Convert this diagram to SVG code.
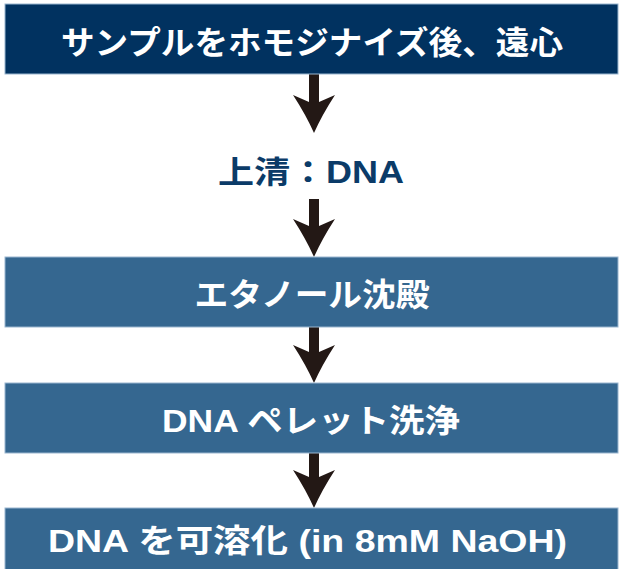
<svg xmlns="http://www.w3.org/2000/svg" width="625" height="569" viewBox="0 0 625 569">
<style>
.box{fill:#356790;stroke:#9ab6cf;stroke-width:1}
.dark{fill:#013260;stroke:#9ab6cf;stroke-width:1}
.t{font-family:"Liberation Sans","Noto Sans CJK JP",sans-serif;font-weight:bold;font-size:31px;fill:#ffffff;text-anchor:middle}
.n{fill:#0b3b68}
.shaft{stroke:#231815;stroke-width:10;fill:none}
</style>
<defs>
<marker id="ah" markerUnits="userSpaceOnUse" markerWidth="40" markerHeight="42" viewBox="0 0 40 42" refX="8" refY="21" orient="auto">
<path d="M0,0 L7,16 L7,26 L0,42 Q20,29 38,21 Q20,13 0,0 Z" fill="#231815"/>
</marker>
</defs>
<rect width="625" height="569" fill="#ffffff"/>
<g id="connectors">
<line class="shaft" x1="314" y1="74" x2="314" y2="103" marker-end="url(#ah)"/>
<line class="shaft" x1="314" y1="199" x2="314" y2="227" marker-end="url(#ah)"/>
<line class="shaft" x1="314" y1="327" x2="314" y2="353" marker-end="url(#ah)"/>
<line class="shaft" x1="314" y1="452" x2="314" y2="478" marker-end="url(#ah)"/>
</g>
<g id="n1">
<rect class="dark" x="5" y="4" width="613" height="70"/>
<text class="t" x="312" y="54" style="font-size:32px" textLength="502" lengthAdjust="spacingAndGlyphs">サンプルをホモジナイズ後、遠心</text>
</g>
<g id="n2">
<text class="t n" x="311" y="183" style="font-size:31px" textLength="186" lengthAdjust="spacingAndGlyphs">上清：DNA</text>
</g>
<g id="n3">
<rect class="box" x="5" y="257" width="613" height="70"/>
<text class="t" x="312" y="306" style="font-size:32px" textLength="235" lengthAdjust="spacingAndGlyphs">エタノール沈殿</text>
</g>
<g id="n4">
<rect class="box" x="5" y="383" width="613" height="70"/>
<text class="t" x="311" y="432" style="font-size:32px" textLength="298" lengthAdjust="spacingAndGlyphs">DNA ペレット洗浄</text>
</g>
<g id="n5">
<rect class="box" x="5" y="508" width="613" height="70"/>
<text class="t" x="307.5" y="552" style="font-size:32px" textLength="519" lengthAdjust="spacingAndGlyphs">DNA を可溶化 (in 8mM NaOH)</text>
</g>
</svg>
